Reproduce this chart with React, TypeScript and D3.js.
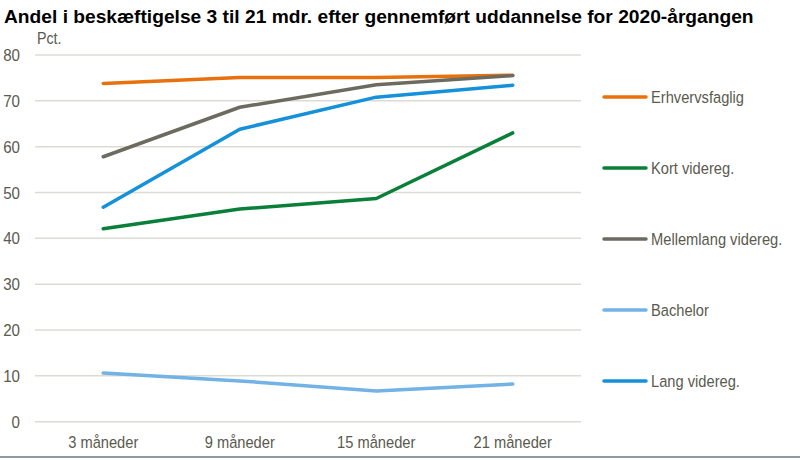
import React from "react";
import * as d3 from "d3";

const categories = ["3 måneder", "9 måneder", "15 måneder", "21 måneder"];
const seriesNames = ["Erhvervsfaglig", "Kort videreg.", "Mellemlang videreg.", "Bachelor", "Lang videreg."];
const erhvervsfaglig = [73.8, 75.1, 75.1, 75.6];
const kortVidereg = [42.1, 46.4, 48.7, 63.0];
const mellemlangVidereg = [57.8, 68.6, 73.5, 75.5];
const bachelor = [10.6, 8.9, 6.7, 8.2];
const langVidereg = [46.8, 63.8, 70.8, 73.4];
const yTicks = [0, 10, 20, 30, 40, 50, 60, 70, 80];
const colors = ["#e8710e", "#0a7f3a", "#6b6b5f", "#72b2e4", "#1491d9"];

const seriesValues = [erhvervsfaglig, kortVidereg, mellemlangVidereg, bachelor, langVidereg];

const W = 800, H = 460;
const left = 35, right = 581, top = 55, bottom = 421.7;
const font = '"Liberation Sans", Arial, sans-serif';
const textColor = "#5a5a4f";
const SX = 0.89;

function NText(props: { x: number; y: number; anchor?: string; size?: number; children: React.ReactNode }) {
  const { x, y, anchor = "start", size = 16.5, children } = props;
  return (
    <text
      transform={`translate(${x},${y}) scale(${SX},1)`}
      textAnchor={anchor}
      fontFamily={font}
      fontSize={size}
      fill={textColor}
    >
      {children}
    </text>
  );
}

export default function App() {
  const x = d3.scalePoint<string>().domain(categories).range([left, right]).padding(0.5);
  const y = d3.scaleLinear().domain([0, 80]).range([bottom, top]);
  const line = d3.line<number>().x((_, i) => x(categories[i]) as number).y((d) => y(d));
  const legendY = d3.scalePoint<string>().domain(seriesNames).range([97, 381]);

  return (
    <svg width={W} height={H} style={{ position: "absolute", left: 0, top: 0, background: "#fff" }}>
      <rect x={0} y={0} width={W} height={H} fill="#fff" />
      <text x={4} y={23} fontFamily={font} fontWeight="bold" fontSize={19.2} fill="#000">
        Andel i beskæftigelse 3 til 21 mdr. efter gennemført uddannelse for 2020-årgangen
      </text>
      <NText x={37} y={44} size={16}>Pct.</NText>
      {yTicks.map((t) => (
        <g key={t}>
          <line x1={left} x2={right} y1={y(t)} y2={y(t)} stroke="#dcdbd3" strokeWidth={1.5} />
          <NText x={20} y={y(t) + 6} anchor="end" size={17}>{t}</NText>
        </g>
      ))}
      {categories.map((c) => (
        <NText key={c} x={x(c) as number} y={448} anchor="middle">{c}</NText>
      ))}
      {seriesValues.map((vals, i) => (
        <path key={seriesNames[i]} d={line(vals) || ""} fill="none" stroke={colors[i]} strokeWidth={3.5} strokeLinecap="round" strokeLinejoin="round" />
      ))}
      {seriesNames.map((n, i) => (
        <g key={n}>
          <line x1={604} x2={646} y1={legendY(n)} y2={legendY(n)} stroke={colors[i]} strokeWidth={3.5} strokeLinecap="round" />
          <NText x={651} y={(legendY(n) as number) + 6}>{n}</NText>
        </g>
      ))}
      <line x1={0} x2={W} y1={457} y2={457} stroke="#8c9ca2" strokeWidth={2} />
    </svg>
  );
}
